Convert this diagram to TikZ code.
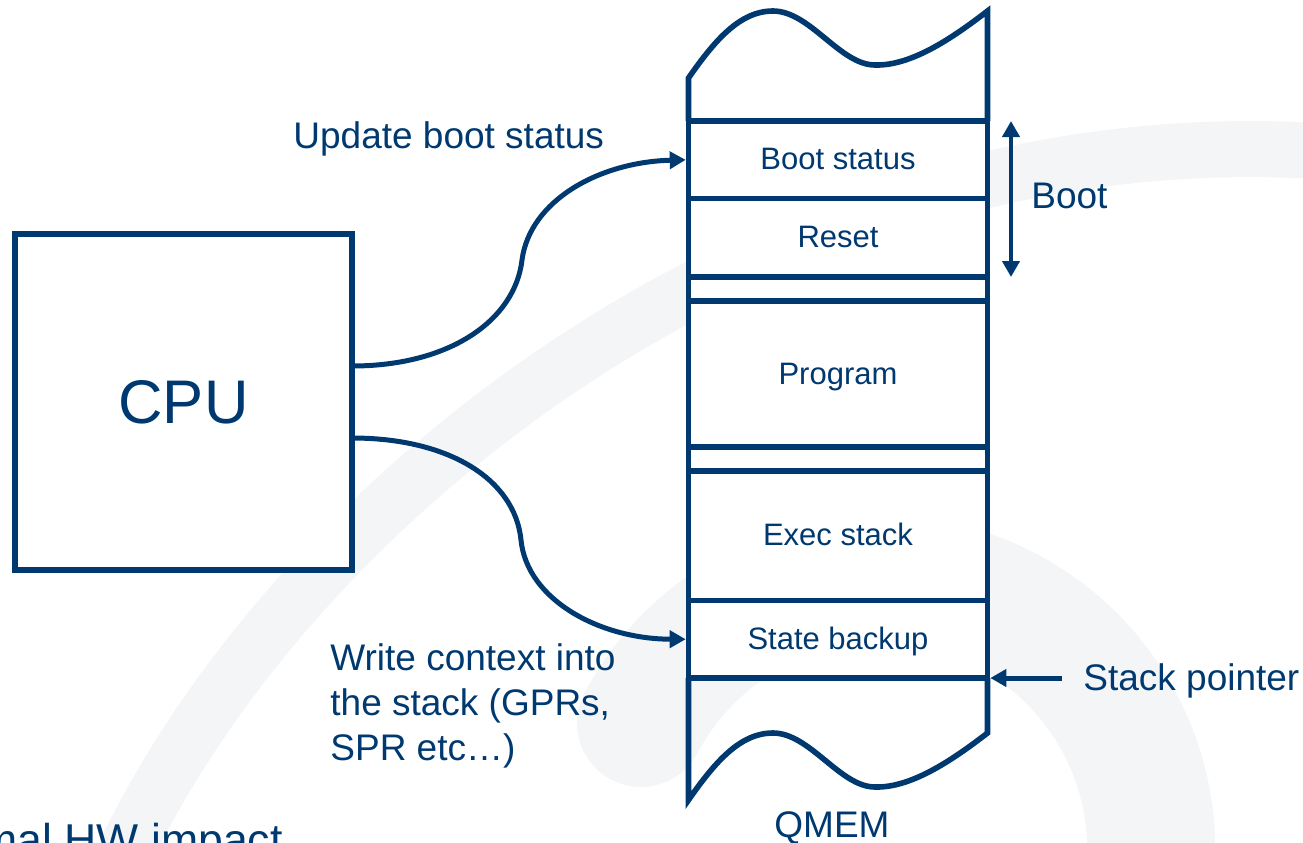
\documentclass[tikz,border=0pt]{standalone}
\usepackage{fontspec}
\setmainfont{Liberation Sans}
\usetikzlibrary{positioning,arrows.meta}
\definecolor{qblue}{RGB}{0,57,112}
\definecolor{wmgray}{RGB}{244,245,247}

\begin{document}
\begin{tikzpicture}[x=0.5pt,y=-0.5pt,
	cell/.style={draw=qblue,line width=2.8pt,fill=white,minimum width=149.5pt,inner sep=0pt,outer sep=0pt,text=qblue,text height=11pt,text depth=1pt,font=\fontsize{15.5}{18}\selectfont},
	wall/.style={draw=qblue,line width=2.8pt},
	conn/.style={draw=qblue,line width=2.5pt,-{Triangle[length=8pt,width=8.5pt]}},
	lbl/.style={text=qblue,inner sep=0pt,font=\fontsize{18.5}{22.5}\selectfont},
	watermark/.style={draw=wmgray}]
	\useasboundingbox (0,0) rectangle (1303,842);

	%tlo
	\draw[watermark,line width=28pt] (104,900) .. controls (255,530) and (750,110) .. (1330,152);
	\draw[watermark,line width=64pt,line cap=round] (641,723) arc[start angle=-152,end angle=10,radius=271];

	%procesor
	\node[draw=qblue,line width=2.6pt,fill=white,minimum width=168.5pt,minimum height=168pt,inner sep=0pt,outer sep=0pt,text=qblue,font=\fontsize{30.8}{36}\selectfont] (cpu) at (183.5,402) {CPU};

	%pamiec
	\node[cell,minimum height=38.75pt] (boot) at (838,159.75) {Boot status};
	\node[cell,minimum height=39.25pt,below=0pt of boot] (reset) {Reset};
	\node[cell,minimum height=12pt,below=0pt of reset] (gapA) {};
	\node[cell,minimum height=73pt,below=0pt of gapA] (prog) {Program};
	\node[cell,minimum height=12pt,below=0pt of prog] (gapB) {};
	\node[cell,minimum height=64.75pt,below=0pt of gapB] (exec) {Exec stack};
	\node[cell,minimum height=38.75pt,below=0pt of exec] (backup) {State backup};

	%urwane krawedzie
	\draw[wall] (boot.north west) -- (688.5,78)
		.. controls (715,40) and (740,11) .. (773,11)
		.. controls (810,11) and (840,65) .. (875,65)
		.. controls (910,66) and (950,40) .. (987.5,11) -- (boot.north east);
	\draw[wall] (backup.south west) -- (688.5,800)
		.. controls (715,762) and (740,733) .. (773,733)
		.. controls (810,733) and (840,787) .. (875,787)
		.. controls (910,788) and (950,762) .. (987.5,733) -- (backup.south east);

	%zakres boot
	\draw[conn,{Triangle[length=8pt,width=8.5pt]}-{Triangle[length=8pt,width=8.5pt]},line width=2.3pt]
		([xshift=11.75pt]boot.north east) -- ([xshift=11.75pt]reset.south east);
	\node[lbl,anchor=base west] (bootlbl) at (1031,208) {Boot};

	%wskaznik stosu
	\node[lbl,anchor=base west] (sp) at (1083,690) {Stack pointer};
	\coordinate (sptail) at ([xshift=-10.5pt]sp.west);
	\draw[conn,shorten >=1.4pt] (sptail |- backup.south east) -- (backup.south east);

	%strzalki z cpu
	\draw[conn,shorten >=1.4pt] ([yshift=18pt]cpu.east)
		.. controls (450,366) and (515,320) .. (522,260)
		.. controls (530,200) and (600,162) .. (boot.west);
	\draw[conn,shorten >=1.4pt] ([yshift=-18pt]cpu.east)
		.. controls (450,438) and (515,480) .. (521,540)
		.. controls (527,600) and (600,639) .. (backup.west);

	%opisy
	\node[lbl,anchor=base west] (upd) at (293,148) {Update boot status};
	\node[lbl,anchor=north west,align=left] (ctx) at (330,643) {Write context into\\the stack (GPRs,\\SPR etc…)};
	\node[lbl,anchor=base] (qmem) at (832,837) {QMEM};
	\node[lbl,anchor=base east,font=\fontsize{22.3}{26}\selectfont] (hw) at (283,855) {Normal HW impact};
\end{tikzpicture}
\end{document}
